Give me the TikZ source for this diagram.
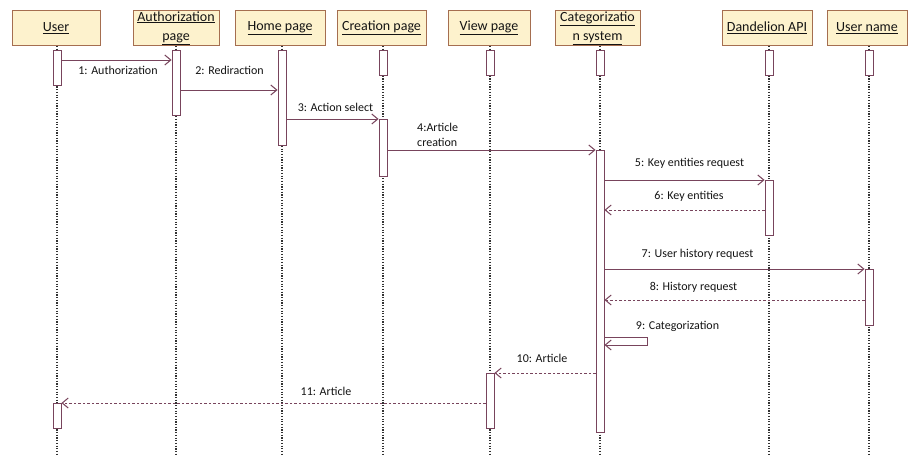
\documentclass[tikz,border=0pt]{standalone}
\usepackage{fontspec}
\setmainfont{Carlito}
\usetikzlibrary{arrows.meta}
\definecolor{msgc}{RGB}{120,68,92}
\definecolor{hdrfill}{RGB}{253,242,205}
\definecolor{hdrdraw}{RGB}{165,110,80}
\definecolor{lifec}{RGB}{50,50,50}
\definecolor{txtc}{RGB}{20,20,20}
\tikzset{
  hdr/.style={draw=hdrdraw, fill=hdrfill, line width=0.9pt, minimum height=35pt, inner sep=1pt,
    font=\fontsize{14}{19}\selectfont, text=txtc, align=center, anchor=north},
  act/.style={draw=msgc, fill=white, line width=0.9pt, minimum width=8pt, inner sep=0pt, anchor=north},
  life/.style={draw=lifec, line width=1.1pt, dash pattern=on 1.2pt off 1.5pt},
  msg/.style={draw=msgc, line width=1pt, -{Straight Barb[length=6pt,width=10pt,line width=1pt]}},
  ret/.style={msg, dash pattern=on 2.5pt off 2pt},
  lbl/.style={font=\fontsize{12}{15}\selectfont, text=txtc, inner sep=0pt},
}
\begin{document}
\begin{tikzpicture}[x=1pt,y=-1pt]
\useasboundingbox[fill=white] (0,0) rectangle (909,455);
% headers
\node[hdr, minimum width=88pt] (hU) at (56,10) {\underline{User}};
\node[hdr, minimum width=86pt] (hA) at (176,10) {\underline{Authorization}\\\underline{page}};
\node[hdr, minimum width=90pt] (hH) at (280,10) {\underline{Home page}};
\node[hdr, minimum width=89pt] (hC) at (381.5,10) {\underline{Creation page}};
\node[hdr, minimum width=82pt] (hV) at (489,10) {\underline{View page}};
\node[hdr, minimum width=85pt] (hG) at (597.5,10) {\underline{Categorizatio}\\\underline{n system}};
\node[hdr, minimum width=90pt] (hD) at (767,10) {\underline{Dandelion API}};
\node[hdr, minimum width=80pt] (hN) at (867,10) {\underline{User name}};
% lifeline ends
\coordinate (eU) at (57,455);
\coordinate (eA) at (176,455);
\coordinate (eH) at (282,455);
\coordinate (eC) at (383,455);
\coordinate (eV) at (490,455);
\coordinate (eG) at (600,455);
\coordinate (eD) at (769,455);
\coordinate (eN) at (869,455);
\draw[life] (hU.south -| eU) -- (eU);
\draw[life] (hA.south -| eA) -- (eA);
\draw[life] (hH.south -| eH) -- (eH);
\draw[life] (hC.south -| eC) -- (eC);
\draw[life] (hV.south -| eV) -- (eV);
\draw[life] (hG.south -| eG) -- (eG);
\draw[life] (hD.south -| eD) -- (eD);
\draw[life] (hN.south -| eN) -- (eN);
% activations
\node[act, minimum height=35pt] (u0) at (57,50) {};
\node[act, minimum height=65pt] (a0) at (176,50) {};
\node[act, minimum height=95pt] (h0) at (282,50) {};
\node[act, minimum height=25pt] (c0) at (383,50) {};
\node[act, minimum height=57pt] (c1) at (383,119) {};
\node[act, minimum height=25pt] (v0) at (490,50) {};
\node[act, minimum height=55pt] (v1) at (490,373) {};
\node[act, minimum height=25pt] (g0) at (600,50) {};
\node[act, minimum height=282pt] (g1) at (600,150) {};
\node[act, minimum height=25pt] (d0) at (769,50) {};
\node[act, minimum height=55pt] (d1) at (769,180) {};
\node[act, minimum height=25pt] (n0) at (869,50) {};
\node[act, minimum height=56pt] (n1) at (869,269) {};
\node[act, minimum height=25pt] (u1) at (57,403) {};
% messages
\draw[msg] (u0.east |- 0,60) -- (a0.west |- 0,60);
\draw[msg] (a0.east |- 0,90) -- (h0.west |- 0,90);
\draw[msg] (h0.east |- 0,119) -- (c1.west |- 0,119);
\draw[msg] (c1.east |- 0,150) -- (g1.west |- 0,150);
\draw[msg] (g1.east |- 0,180) -- (d1.west |- 0,180);
\draw[ret] (d1.west |- 0,210) -- (g1.east |- 0,210);
\draw[msg] (g1.east |- 0,269) -- (n1.west |- 0,269);
\draw[ret] (n1.west |- 0,300) -- (g1.east |- 0,300);
\draw[msg] (g1.east |- 0,337) -- ++(43,0) -- ++(0,8) -- (g1.east |- 0,345);
\draw[ret] (g1.west |- 0,373) -- (v1.east |- 0,373);
\draw[ret] (v1.west |- 0,403) -- (u1.east |- 0,403);
% labels
\node[lbl] (l1) at (118,70) {1: Authorization};
\node[lbl] (l2) at (229.5,70) {2: Rediraction};
\node[lbl] (l3) at (335.5,107) {3: Action select};
\node[lbl, align=left, anchor=west] (l4) at (417,134.5) {4:Article\\creation};
\node[lbl] (l5) at (689.5,163) {5: Key entities request};
\node[lbl] (l6) at (689,196) {6: Key entities};
\node[lbl] (l7) at (697.5,254) {7: User history request};
\node[lbl] (l8) at (693.5,287) {8: History request};
\node[lbl] (l9) at (677.5,326) {9: Categorization};
\node[lbl] (l10) at (542,358) {10: Article};
\node[lbl] (l11) at (326,391) {11: Article};
\end{tikzpicture}
\end{document}
